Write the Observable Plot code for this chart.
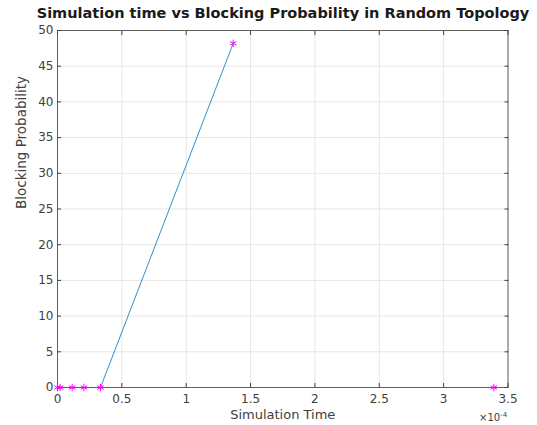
<!DOCTYPE html>
<html>
<head>
<meta charset="utf-8">
<script src="https://cdn.jsdelivr.net/npm/d3@7"></script>
<script src="https://cdn.jsdelivr.net/npm/@observablehq/plot@0.6"></script>
<style>
  body { margin: 0; background: #fff; font-family: "DejaVu Sans", sans-serif; }
  #wrap { position: relative; width: 537px; height: 425px; overflow: hidden; }
  #title { position: absolute; left: 0px; width: 566px; top: 5px; text-align: center; white-space: nowrap;
           font: bold 14.5px "DejaVu Sans", sans-serif; color: #1a1a1a; z-index: 2; }
  #exp { position: absolute; left: 479px; top: 409px; font: 10px/12px "DejaVu Sans", sans-serif; color: #404040; }
</style>
</head>
<body>
<div id="wrap">
  <div id="title">Simulation time vs Blocking Probability in Random Topology</div>
  <div id="chart"></div>
  <div id="exp">×10<sup style="font-size:7px">-4</sup></div>
</div>
<script>
// Simulation time (seconds) and blocking probability
const simTime = [0, 0.000002, 0.0000114, 0.0000205, 0.0000334, 0.0001365, 0.000339];
const blocking = [0, 0, 0, 0, 0, 48.2, 0];
const lineCount = 6; // the line joins the first six samples
const xTicks = [0, 0.5, 1, 1.5, 2, 2.5, 3, 3.5]; // in units of 10^-4
const yTicks = [0, 5, 10, 15, 20, 25, 30, 35, 40, 45, 50];

const data = simTime.map((t, i) => ({t, b: blocking[i], i}));
const lineData = data.filter(d => d.i < lineCount);
const xv = d => d.t * 1e4;

const axisColor = "#404040";
const noLabel = () => "";
const chart = Plot.plot({
  width: 537,
  height: 425,
  marginTop: 30,
  marginLeft: 57,
  marginRight: 29.5,
  marginBottom: 38,
  style: {fontFamily: "DejaVu Sans, sans-serif", fontSize: "12px", color: axisColor, background: "#fff"},
  x: {domain: [0, 3.5], ticks: xTicks},
  y: {domain: [0, 50], ticks: yTicks},
  marks: [
    Plot.gridX(xTicks, {stroke: "#e6e6e6", strokeOpacity: 1}),
    Plot.gridY(yTicks, {stroke: "#e6e6e6", strokeOpacity: 1}),
    Plot.frame({stroke: axisColor, strokeWidth: 0.8}),
    Plot.axisX(xTicks, {anchor: "bottom", tickSize: -4, tickPadding: 11, label: null, tickFormat: d => String(d)}),
    Plot.axisX(xTicks, {anchor: "top", tickSize: -4, tickFormat: noLabel, label: null}),
    Plot.axisY(yTicks, {anchor: "left", tickSize: -4, tickPadding: 8, label: null}),
    Plot.axisY(yTicks, {anchor: "right", tickSize: -4, tickFormat: noLabel, label: null}),
    Plot.text(["Simulation Time"], {frameAnchor: "bottom", dy: 31, fill: axisColor, fontSize: 13}),
    Plot.text(["Blocking Probability"], {frameAnchor: "left", dx: -36, rotate: -90, fill: axisColor, fontSize: 13.5}),
    Plot.line(lineData, {x: xv, y: "b", stroke: "#0072BD", strokeWidth: 0.8}),
    Plot.dot(data, {x: xv, y: "b", symbol: "asterisk", r: 3.5, stroke: "#FF00FF", strokeWidth: 1})
  ]
});
document.getElementById("chart").appendChild(chart);
</script>
</body>
</html>
